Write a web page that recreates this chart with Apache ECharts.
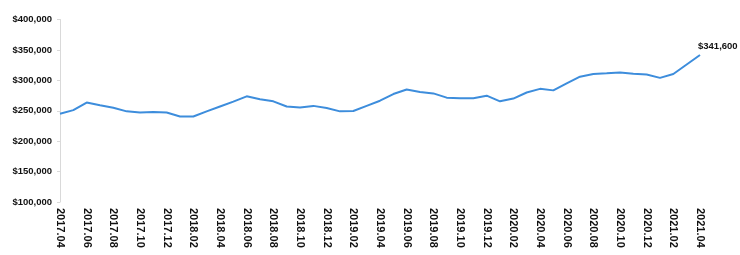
<!DOCTYPE html>
<html>
<head>
<meta charset="utf-8">
<script src="https://cdn.jsdelivr.net/npm/echarts@6/dist/echarts.min.js"></script>
<style>html,body{margin:0;padding:0;background:#fff;}#c{width:740px;height:255px;}</style>
</head>
<body>
<div id="c"></div>
<script>
const months = [
  '2017.04','2017.05','2017.06','2017.07','2017.08','2017.09','2017.10','2017.11','2017.12',
  '2018.01','2018.02','2018.03','2018.04','2018.05','2018.06','2018.07','2018.08','2018.09','2018.10','2018.11','2018.12',
  '2019.01','2019.02','2019.03','2019.04','2019.05','2019.06','2019.07','2019.08','2019.09','2019.10','2019.11','2019.12',
  '2020.01','2020.02','2020.03','2020.04','2020.05','2020.06','2020.07','2020.08','2020.09','2020.10','2020.11','2020.12',
  '2021.01','2021.02','2021.03','2021.04'
];
const prices = [
  245000, 251000, 263500, 259000, 255000, 249000, 247000, 248000, 247000,
  240500, 240500, 249000, 257000, 265000, 273700, 269000, 265500, 257000, 255500, 258000, 254500,
  249000, 249500, 258000, 266500, 277500, 285000, 281000, 278500, 271500, 270500, 270500, 274800,
  265500, 270000, 280000, 286000, 283500, 295000, 306000, 310500, 311500, 313000, 311000, 309500,
  304000, 310500, 326000, 341600
];
const yTicks = { min: 100000, max: 400000, interval: 50000 };

const chart = echarts.init(document.getElementById('c'));
chart.setOption({
  animation: false,
  grid: { left: 60, right: 40, top: 19.5, bottom: 53, containLabel: false },
  xAxis: {
    type: 'category',
    data: months,
    boundaryGap: false,
    axisLine: { show: false },
    axisTick: { show: false },
    axisLabel: {
      interval: 1,
      rotate: -90,
      margin: 6,
      fontFamily: 'Liberation Sans',
      fontWeight: 'bold',
      fontSize: 11,
      color: '#111'
    },
    splitLine: { show: false }
  },
  yAxis: {
    type: 'value',
    min: yTicks.min,
    max: yTicks.max,
    interval: yTicks.interval,
    axisLine: { show: true, lineStyle: { color: '#d9d9d9', width: 1 } },
    axisTick: { show: true, length: 3, lineStyle: { color: '#d9d9d9' } },
    splitLine: { show: false },
    axisLabel: {
      margin: 8,
      fontFamily: 'Liberation Sans',
      fontWeight: 'bold',
      fontSize: 9.5,
      color: '#111',
      formatter: v => '$' + v.toLocaleString('en-US')
    }
  },
  series: [{
    type: 'line',
    data: prices,
    showSymbol: false,
    symbol: 'none',
    lineStyle: { color: '#3d8ddc', width: 2 },
    itemStyle: { color: '#3d8ddc' },
    endLabel: {
      show: true,
      distance: 0,
      offset: [-2, -9],
      fontFamily: 'Liberation Sans',
      fontWeight: 'bold',
      fontSize: 9.5,
      color: '#111',
      formatter: p => '$' + Number(p.value).toLocaleString('en-US')
    }
  }]
});
</script>
</body>
</html>
